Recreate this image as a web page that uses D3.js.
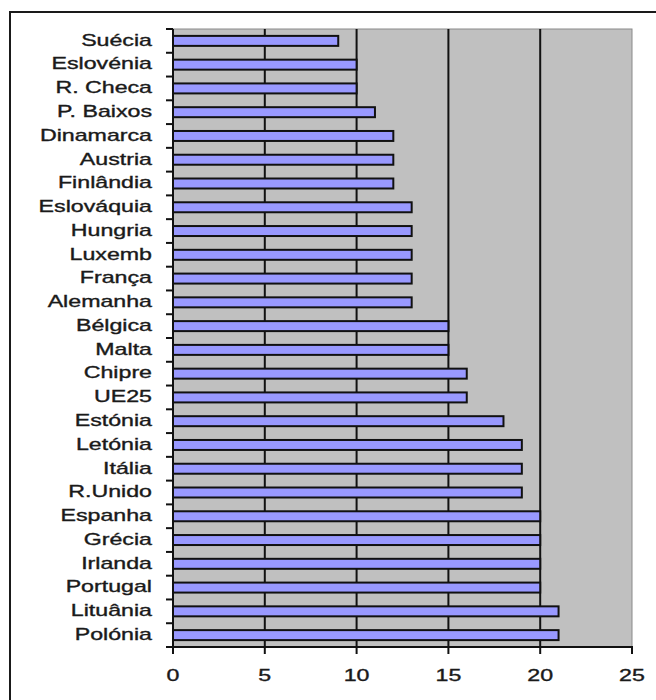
<!DOCTYPE html>
<html>
<head>
<meta charset="utf-8">
<script src="https://cdn.jsdelivr.net/npm/d3@7"></script>
<style>
  body { margin: 0; background: #fff; }
  svg { display: block; }
  text { font-family: "Liberation Sans", Arial, sans-serif; fill: #1a1a1a;
         stroke: #1a1a1a; stroke-width: 0.35px; }
</style>
</head>
<body>
<svg id="chart" width="656" height="700"></svg>
<script>
/* data */
var categories = ['Suécia', 'Eslovénia', 'R. Checa', 'P. Baixos', 'Dinamarca', 'Austria',
  'Finlândia', 'Eslováquia', 'Hungria', 'Luxemb', 'França', 'Alemanha', 'Bélgica', 'Malta',
  'Chipre', 'UE25', 'Estónia', 'Letónia', 'Itália', 'R.Unido', 'Espanha', 'Grécia',
  'Irlanda', 'Portugal', 'Lituânia', 'Polónia'];
var values = [9, 10, 10, 11, 12, 12, 12, 13, 13, 13, 13, 13, 15, 15, 16, 16, 18, 19, 19, 19,
  20, 20, 20, 20, 21, 21];
var xTicks = [0, 5, 10, 15, 20, 25];

var svg = d3.select('#chart');
var plotL = 173, plotR = 632, plotT = 29, plotB = 647;

var x = d3.scaleLinear().domain([0, 25]).range([plotL, plotR]);
var y = d3.scaleBand().domain(categories).range([plotT, plotB])
    .paddingInner(0.58).paddingOuter(0.29);

/* outer frame (runs off the page on the right and bottom) */
svg.append('rect')
    .attr('x', 10).attr('y', 12)
    .attr('width', 700).attr('height', 720)
    .attr('fill', 'none').attr('stroke', '#1a1a1a').attr('stroke-width', 2);

/* plot area */
svg.append('rect')
    .attr('x', plotL).attr('y', plotT)
    .attr('width', plotR - plotL).attr('height', plotB - plotT)
    .attr('fill', '#c0c0c0').attr('stroke', '#8a8a8a').attr('stroke-width', 1);

/* vertical gridlines */
svg.selectAll('.grid')
  .data(xTicks.filter(function(d) { return d > 0 && d < 25; }))
  .enter().append('line')
    .attr('class', 'grid')
    .attr('x1', function(d) { return x(d); })
    .attr('x2', function(d) { return x(d); })
    .attr('y1', plotT).attr('y2', plotB)
    .attr('stroke', '#111').attr('stroke-width', 2);

/* bars */
svg.selectAll('.bar')
  .data(values)
  .enter().append('rect')
    .attr('class', 'bar')
    .attr('x', x(0))
    .attr('y', function(d, i) { return y(categories[i]); })
    .attr('width', function(d) { return x(d) - x(0); })
    .attr('height', y.bandwidth())
    .attr('fill', '#9999ff')
    .attr('stroke', '#111').attr('stroke-width', 2);

/* y axis: line, ticks between categories, labels */
var half = y.step() * y.paddingInner() / 2;
var bounds = categories.map(function(c) { return y(c) - half; });
bounds.push(plotB);

svg.append('line')
    .attr('x1', plotL).attr('x2', plotL).attr('y1', plotT).attr('y2', plotB + 1)
    .attr('stroke', '#111').attr('stroke-width', 2);

svg.selectAll('.ytick')
  .data(bounds)
  .enter().append('line')
    .attr('class', 'ytick')
    .attr('x1', plotL - 7).attr('x2', plotL)
    .attr('y1', function(d) { return d; }).attr('y2', function(d) { return d; })
    .attr('stroke', '#111').attr('stroke-width', 2);

svg.selectAll('.ylabel')
  .data(categories)
  .enter().append('g')
    .attr('class', 'ylabel')
    .attr('transform', function(d) {
      return 'translate(152,' + (y(d) + y.bandwidth() / 2 - 1) + ')';
    })
  .append('text')
    .attr('transform', 'scale(1.45,1)')
    .attr('text-anchor', 'end')
    .attr('dy', '0.36em')
    .style('font-size', '16px')
    .text(function(d) { return d; });

/* x axis */
svg.append('line')
    .attr('x1', plotL - 1).attr('x2', plotR + 1).attr('y1', plotB).attr('y2', plotB)
    .attr('stroke', '#111').attr('stroke-width', 2);

svg.selectAll('.xtick')
  .data(xTicks)
  .enter().append('line')
    .attr('class', 'xtick')
    .attr('x1', function(d) { return x(d); })
    .attr('x2', function(d) { return x(d); })
    .attr('y1', plotB).attr('y2', plotB + 7)
    .attr('stroke', '#111').attr('stroke-width', 2);

svg.selectAll('.xlabel')
  .data(xTicks)
  .enter().append('g')
    .attr('class', 'xlabel')
    .attr('transform', function(d) { return 'translate(' + x(d) + ',681)'; })
  .append('text')
    .attr('transform', 'scale(1.45,1)')
    .attr('text-anchor', 'middle')
    .style('font-size', '16px')
    .text(function(d) { return d; });
</script>
</body>
</html>
